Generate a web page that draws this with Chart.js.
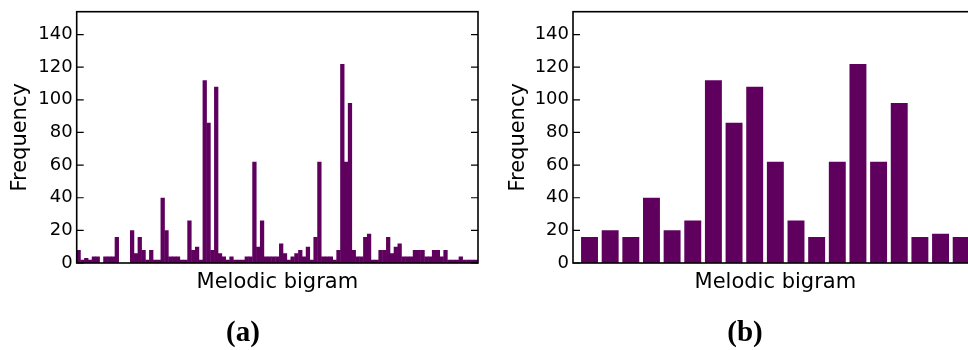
<!DOCTYPE html>
<html>
<head>
<meta charset="utf-8">
<script src="https://cdn.jsdelivr.net/npm/chart.js@4.4.1/dist/chart.umd.min.js"></script>
<style>
  html, body { margin: 0; padding: 0; background: #fff; overflow: hidden; width: 968px; height: 350px; }
  #wrap { position: relative; width: 968px; height: 350px; overflow: hidden; }
  canvas { position: absolute; top: 0; }
  #left { left: 0; }
  #right { left: 490px; }
  .cap { position: absolute; top: 314px; width: 100px; text-align: center; color: #000;
         font-family: "Liberation Serif", serif; font-weight: bold; font-size: 29px; line-height: 34px; }
</style>
</head>
<body>
<div id="wrap">
  <canvas id="left" width="490" height="350"></canvas>
  <canvas id="right" width="500" height="350"></canvas>
  <div class="cap" style="left:193px">(a)</div>
  <div class="cap" style="left:695px">(b)</div>
</div>
<script>
// Occurrence count of every melodic bigram, in bigram order
const allBigramCounts = [
  8, 2, 3, 2, 4, 4, 0, 4, 4, 4,
  16, 0, 0, 0, 20, 6, 16, 8, 2, 8,
  2, 2, 40, 20, 4, 4, 4, 2, 2, 26,
  8, 10, 2, 112, 86, 8, 108, 6, 4, 2,
  4, 2, 2, 2, 4, 4, 62, 10, 26, 4,
  4, 4, 4, 12, 6, 2, 4, 6, 8, 4,
  10, 2, 16, 62, 4, 4, 4, 2, 8, 122,
  62, 98, 8, 4, 4, 16, 18, 2, 2, 8,
  8, 16, 6, 10, 12, 4, 4, 4, 8, 8,
  8, 4, 4, 8, 8, 4, 8, 2, 2, 2,
  4, 2, 2, 2, 2
];

// Occurrence count of the most frequent bigrams only
const frequentBigramCounts = [16, 20, 16, 40, 20, 26, 112, 86, 108, 62, 26, 16, 62, 122, 62, 98, 16, 18, 16];

// Frequency axis tick values
const frequencyTicks = [0, 20, 40, 60, 80, 100, 120, 140];
const frequencyMax = 154;

const barColor = '#5f005f';
const labelFont = { family: 'DejaVu Sans', size: 21 };
const tickFont = { family: 'DejaVu Sans', size: 18 };

// Box around the plot area plus inward tick marks on both vertical spines
const framePlugin = {
  id: 'frame',
  afterDatasetsDraw(chart) {
    const { ctx, chartArea: a, scales: { y } } = chart;
    ctx.save();
    ctx.strokeStyle = '#000';
    ctx.lineWidth = 1.2;
    y.ticks.forEach(t => {
      const py = y.getPixelForValue(t.value);
      ctx.beginPath();
      ctx.moveTo(a.left, py); ctx.lineTo(a.left + 7, py);
      ctx.moveTo(a.right, py); ctx.lineTo(a.right - 7, py);
      ctx.stroke();
    });
    ctx.lineWidth = 1.6;
    ctx.strokeRect(a.left, a.top, a.right - a.left, a.bottom - a.top);
    ctx.restore();
  }
};

function makeChart(id, counts, o) {
  return new Chart(document.getElementById(id), {
    type: 'bar',
    data: {
      datasets: [{
        data: counts.map((v, i) => ({ x: i + o.shift, y: v })),
        backgroundColor: barColor,
        borderWidth: 0,
        barPercentage: o.barPct,
        categoryPercentage: 1
      }]
    },
    options: {
      responsive: false,
      animation: false,
      devicePixelRatio: 1,
      layout: { padding: { left: 0, top: 11.7, right: o.padRight, bottom: 0 } },
      plugins: { legend: { display: false }, tooltip: { enabled: false } },
      scales: {
        x: {
          type: 'linear', min: o.xMin, max: o.xMax, offset: false,
          grid: { display: false, drawTicks: false }, border: { display: false },
          ticks: { display: false },
          afterBuildTicks(s) { s.ticks = [{ value: o.xMin }, { value: o.xMax }]; },
          title: { display: true, text: 'Melodic bigram', font: labelFont, color: '#000',
                   padding: { top: 0, bottom: 54.5 } },
          afterFit(s) { s.height = 87; s.paddingLeft = 0; s.paddingRight = 0; }
        },
        y: {
          type: 'linear', min: 0, max: frequencyMax,
          grid: { display: false, drawTicks: false }, border: { display: false },
          afterBuildTicks(s) { s.ticks = frequencyTicks.map(v => ({ value: v })); },
          ticks: { font: tickFont, color: '#000', padding: 4 },
          title: { display: true, text: 'Frequency', font: labelFont, color: '#000',
                   padding: { top: o.titlePad, bottom: 0 } },
          afterFit(s) { s.width = o.yWidth; s.paddingTop = 0; s.paddingBottom = 0; }
        }
      }
    },
    plugins: [framePlugin]
  });
}

// (a) all bigrams, contiguous bars
makeChart('left', allBigramCounts, {
  shift: 0.5, barPct: 1.12, xMin: 0, xMax: allBigramCounts.length,
  padRight: 12, yWidth: 76.7, titlePad: 8
});

// (b) frequent bigrams, separated bars
makeChart('right', frequentBigramCounts, {
  shift: 0, barPct: 0.82, xMin: -0.8, xMax: frequentBigramCounts.length - 0.2,
  padRight: 12.3, yWidth: 83, titlePad: 16.3
});
</script>
</body>
</html>
